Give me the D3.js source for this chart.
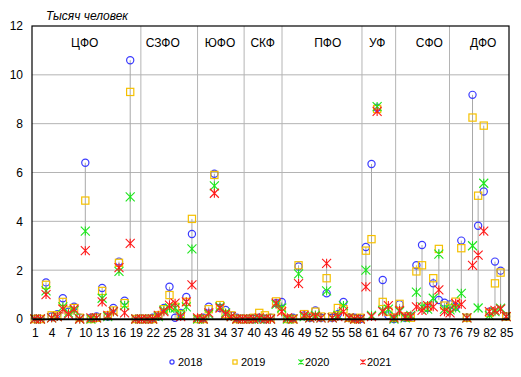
<!DOCTYPE html>
<html>
<head>
<meta charset="utf-8">
<script src="https://cdn.jsdelivr.net/npm/d3@7"></script>
<style>
  body { margin: 0; background: #fff; }
  text { font-family: "Liberation Sans", Arial, sans-serif; }
</style>
</head>
<body>
<div id="chart-container"></div>
<script>
// values per region 1..85, thousand people
const regions = d3.range(1, 86)
const v2018 = [0,0,1.5,0.1,0.2,0.85,0.3,0.5,0.05,6.4, 0.05,0.1,1.27,0.1,0.45,2.35,0.75,10.6,0,0,
  0,0.05,0.1,0.45,1.32,0.05,0.25,0.9,3.48,0, 0.05,0.5,5.95,0.45,0.37,0.15,0.05,0,0,0,
  0.05,0,0.05,0.65,0.7,0,0.05,2.15,0.15,0.05, 0.35,0.05,1.05,0.05,0.2,0.7,0.05,0.05,0,2.95,
  6.35,8.65,1.6,0.15,0,0.6,0.05,0.1,2.2,3.03, 0.45,1.46,0.78,0.67,0.6,0.5,3.21,0.05,9.18,3.82,
  5.22,0.3,2.35,1.98,0.1]
const v2019 = [0,0,1.4,0.15,0.15,0.7,0.35,0.45,0.05,4.85, 0,0.05,1.15,0.15,0.35,2.3,0.65,9.3,0,0,
  0,0,0.15,0.4,0.98,0.5,0.2,0.7,4.1,0, 0,0.4,5.9,0.57,0.2,0.15,0,0,0,0.05,
  0.25,0.15,0.05,0.72,0.35,0,0,2.2,0.2,0.1, 0.3,0.1,1.67,0.1,0.45,0.4,0.05,0,0.05,2.8,
  3.27,8.6,0.7,0.3,0.05,0.62,0.1,0.05,1.95,2.2, 0.5,1.67,2.87,0.55,0.45,0.71,2.9,0.05,8.25,5.05,
  7.92,0.25,1.46,1.9,0.1]
const v2020 = [0,0,1.15,0.05,0.1,0.5,0.25,0.35,0,3.6, 0,0.05,0.85,0.1,0.3,1.95,0.55,5.0,0,0,
  0,0,0.1,0.35,0.45,0.45,0.15,0.5,2.87,0, 0,0.2,5.45,0.5,0.25,0.1,0,0,0,0,
  0,0,0,0.6,0.45,0,0,1.85,0.1,0.05, 0.15,0.05,1.15,0.05,0.15,0.55,0.05,0,0,2.0,
  0.15,8.7,0.35,0.4,0,0.3,0.05,0.15,1.1,0.5, 0.4,0.85,2.66,0.4,0.37,0.45,1.05,0.05,3.0,0.45,
  5.56,0.15,0.3,0.44,0.1]
const v2021 = [0,0,1.0,0.05,0.1,0.4,0.2,0.4,0,2.8, 0.05,0.05,0.7,0.15,0.3,2.1,0.25,3.1,0,0,
  0,0,0.15,0.3,0.57,0.65,0.1,0.7,1.4,0.05, 0,0.25,5.15,0.45,0.2,0.1,0,0,0,0,
  0.05,0,0,0.65,0.3,0.05,0,1.45,0.15,0.05, 0.1,0.05,2.28,0.05,0.1,0.3,0.05,0,0,1.32,
  0.1,8.5,0.3,0.55,0.05,0.35,0.1,0.1,0.5,0.35, 0.55,0.5,1.19,0.3,0.25,0.64,0.6,0.05,2.2,2.62,
  3.6,0.3,0.35,0.4,0.1]

const years = ['2018', '2019', '2020', '2021']
const colors = ['#3b3bff', '#f5c000', '#1ee61e', '#ff1a1a']
const shapes = ['circle', 'square', 'star', 'star']

const xTicks = [1,4,7,10,13,16,19,22,25,28,31,34,37,40,43,46,49,52,55,58,61,64,67,70,73,76,79,82,85]
const yTicks = [0, 2, 4, 6, 8, 10, 12]

// federal districts: separator positions and label positions (region units)
const districtNames = ['ЦФО', 'СЗФО', 'ЮФО', 'СКФ', 'ПФО', 'УФ', 'СФО', 'ДФО']
const districtLabelAt = [9.9, 23.8, 34.0, 41.6, 53.2, 62.0, 71.3, 80.9]
const separators = [19.9, 30.0, 38.3, 45.05, 59.3, 65.3, 74.9]

const series = [v2018, v2019, v2020, v2021]

const margin = {top: 26, right: 12, bottom: 58, left: 32}
const width = 521 - margin.left - margin.right
const height = 377 - margin.top - margin.bottom

const x = d3.scaleLinear().domain([0.5, 85.5]).range([0, width])
const y = d3.scaleLinear().domain([0, 12]).range([height, 0])

const svg = d3.select('#chart-container')
  .append('svg')
  .attr('width', 521)
  .attr('height', 377)
  .append('g')
  .attr('transform', `translate(${margin.left},${margin.top})`)

// horizontal grid
svg.selectAll('.yGrid')
  .data(yTicks.slice(1, -1))
  .join('line')
  .attr('x1', 0).attr('x2', width)
  .attr('y1', d => y(d)).attr('y2', d => y(d))
  .attr('stroke', '#b4b4b4')
  .attr('stroke-width', 1)

// district separators
svg.selectAll('.sep')
  .data(separators)
  .join('line')
  .attr('x1', d => x(d)).attr('x2', d => x(d))
  .attr('y1', 0).attr('y2', height)
  .attr('stroke', '#b4b4b4')
  .attr('stroke-width', 1)

svg.selectAll('.district')
  .data(districtNames)
  .join('text')
  .attr('x', (d, i) => x(districtLabelAt[i]))
  .attr('y', 21)
  .attr('text-anchor', 'middle')
  .style('font-size', '12px')
  .attr('fill', '#000')
  .text(d => d)

// high-low lines
const hl = regions.map((r, i) => {
  const vals = series.map(s => s[i])
  return {r: r, hi: d3.max(vals), lo: d3.min(vals)}
}).filter(d => d.hi - d.lo > 0.15)

svg.selectAll('.hl')
  .data(hl)
  .join('line')
  .attr('x1', d => x(d.r)).attr('x2', d => x(d.r))
  .attr('y1', d => y(d.hi)).attr('y2', d => y(d.lo))
  .attr('stroke', '#a8a8a8')
  .attr('stroke-width', 1)

function marker(g, shape, color, s) {
  if (shape === 'circle') {
    g.append('circle').attr('r', s * 0.8).attr('fill', 'none')
      .attr('stroke', color).attr('stroke-width', 1.2)
  } else if (shape === 'square') {
    g.append('rect').attr('x', -s * 0.8).attr('y', -s * 0.8)
      .attr('width', s * 1.6).attr('height', s * 1.6)
      .attr('fill', 'none').attr('stroke', color).attr('stroke-width', 1.2)
  } else {
    g.append('path')
      .attr('d', `M${-s},${-s}L${s},${s}M${-s},${s}L${s},${-s}M0,${-s}L0,${s}`)
      .attr('fill', 'none').attr('stroke', color).attr('stroke-width', 1.1)
  }
}

series.forEach((vals, k) => {
  const gs = svg.append('g')
  vals.forEach((v, i) => {
    const g = gs.append('g').attr('transform', `translate(${x(regions[i])},${y(v)})`)
    marker(g, shapes[k], colors[k], 4.5)
  })
})

// frame
svg.append('rect')
  .attr('width', width).attr('height', height)
  .attr('fill', 'none').attr('stroke', '#000').attr('stroke-width', 1.2)

svg.append('g')
  .attr('transform', `translate(0,${height})`)
  .style('font-size', '12px')
  .call(d3.axisBottom(x).tickValues(xTicks).tickSize(0).tickPadding(9))
  .call(g => g.select('.domain').attr('stroke', '#000').attr('stroke-width', 1.4))
  .selectAll('.tick text').attr('fill', '#000')

svg.append('g')
  .style('font-size', '12px')
  .call(d3.axisLeft(y).tickValues(yTicks).tickSize(0).tickPadding(9))
  .call(g => g.select('.domain').remove())
  .selectAll('.tick text').attr('fill', '#000')

svg.append('text')
  .attr('x', 14).attr('y', -6)
  .style('font-size', '12px')
  .style('font-style', 'italic')
  .text('Тысяч человек')

// legend
const legendX = [172, 235, 301, 363]
const legend = svg.append('g').attr('transform', `translate(0,${362 - margin.top})`)
years.forEach((yr, k) => {
  const g = legend.append('g').attr('transform', `translate(${legendX[k] - margin.left},0)`)
  marker(g, shapes[k], colors[k], 2.6)
  g.append('text').attr('x', k < 2 ? 6 : 4).attr('y', 4)
    .style('font-size', '11px').text(yr)
})
</script>
</body>
</html>
